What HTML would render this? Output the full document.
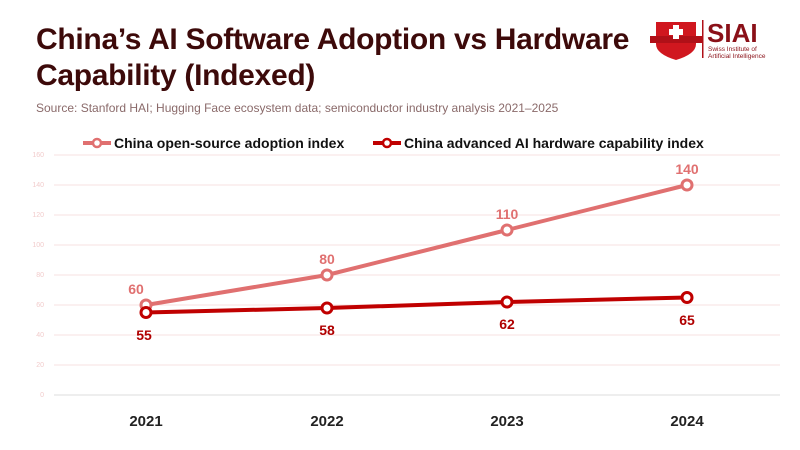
<!DOCTYPE html>
<html><head><meta charset="utf-8"><style>
body{margin:0;width:800px;height:450px;background:#fff;overflow:hidden;font-family:"Liberation Sans","DejaVu Sans",sans-serif}
.t{position:absolute;left:36px;top:22px;font-size:30px;font-weight:bold;color:#3d0a0a;line-height:36px;letter-spacing:-0.3px}
.s{position:absolute;left:36px;top:101px;font-size:12px;color:#8a6a6a}
</style></head><body>
<div class="t">China’s AI Software Adoption vs Hardware<br>Capability (Indexed)</div>
<div class="s">Source: Stanford HAI; Hugging Face ecosystem data; semiconductor industry analysis 2021–2025</div>
<svg width="800" height="450" style="position:absolute;left:0;top:0" font-family="Liberation Sans, sans-serif">
<!-- logo -->
<path d="M656 22 H696 V44 Q696 54 676 60 Q656 54 656 44 Z" fill="#d0171f"/>
<rect x="650" y="36" width="52" height="7" fill="#b01018"/>
<rect x="673" y="25" width="6" height="14" fill="#fff"/><rect x="669" y="29" width="14" height="6" fill="#fff"/>
<rect x="702" y="20" width="1.5" height="38" fill="#b01018"/>
<text x="707" y="42" font-size="26" font-weight="bold" fill="#8a1018">SIAI</text>
<text x="708" y="51" font-size="6.5" fill="#8a1018">Swiss Institute of</text>
<text x="708" y="58" font-size="6.5" fill="#8a1018">Artificial Intelligence</text>
<!-- legend -->
<line x1="83" y1="143" x2="111" y2="143" stroke="#e07070" stroke-width="4"/>
<circle cx="97" cy="143" r="4" fill="#fff" stroke="#e07070" stroke-width="2.5"/>
<text x="114" y="148" font-size="14" font-weight="bold" fill="#111">China open-source adoption index</text>
<line x1="373" y1="143" x2="401" y2="143" stroke="#c00000" stroke-width="4"/>
<circle cx="387" cy="143" r="4" fill="#fff" stroke="#c00000" stroke-width="2.5"/>
<text x="404" y="148" font-size="14" font-weight="bold" fill="#111">China advanced AI hardware capability index</text>
<!-- grid -->
<g stroke="#f7e0e0" stroke-width="1">
<line x1="54" y1="155" x2="780" y2="155"/><line x1="54" y1="185" x2="780" y2="185"/>
<line x1="54" y1="215" x2="780" y2="215"/><line x1="54" y1="245" x2="780" y2="245"/>
<line x1="54" y1="275" x2="780" y2="275"/><line x1="54" y1="305" x2="780" y2="305"/>
<line x1="54" y1="335" x2="780" y2="335"/><line x1="54" y1="365" x2="780" y2="365"/>
</g>
<line x1="54" y1="395" x2="780" y2="395" stroke="#ddd"/>
<g font-size="7" fill="#f2cccc" text-anchor="end">
<text x="44" y="157">160</text><text x="44" y="187">140</text><text x="44" y="217">120</text>
<text x="44" y="247">100</text><text x="44" y="277">80</text><text x="44" y="307">60</text>
<text x="44" y="337">40</text><text x="44" y="367">20</text><text x="44" y="397">0</text>
</g>
<g font-size="15" font-weight="bold" fill="#222" text-anchor="middle">
<text x="146" y="426">2021</text><text x="327" y="426">2022</text><text x="507" y="426">2023</text><text x="687" y="426">2024</text>
</g>
<polyline points="146,305 327,275 507,230 687,185" fill="none" stroke="#e07070" stroke-width="4"/>
<polyline points="146,312.5 327,308 507,302 687,297.5" fill="none" stroke="#c00000" stroke-width="4"/>
<g fill="#fff" stroke="#e07070" stroke-width="3">
<circle cx="146" cy="305" r="5"/><circle cx="327" cy="275" r="5"/><circle cx="507" cy="230" r="5"/><circle cx="687" cy="185" r="5"/>
</g>
<g fill="#fff" stroke="#c00000" stroke-width="3">
<circle cx="146" cy="312.5" r="5"/><circle cx="327" cy="308" r="5"/><circle cx="507" cy="302" r="5"/><circle cx="687" cy="297.5" r="5"/>
</g>
<g font-size="14" font-weight="bold" fill="#e07070" text-anchor="middle">
<text x="136" y="294">60</text><text x="327" y="264">80</text><text x="507" y="219">110</text><text x="687" y="174">140</text>
</g>
<g font-size="14" font-weight="bold" fill="#b00000" text-anchor="middle">
<text x="144" y="340">55</text><text x="327" y="335">58</text><text x="507" y="329">62</text><text x="687" y="325">65</text>
</g>
</svg>
</body></html>
